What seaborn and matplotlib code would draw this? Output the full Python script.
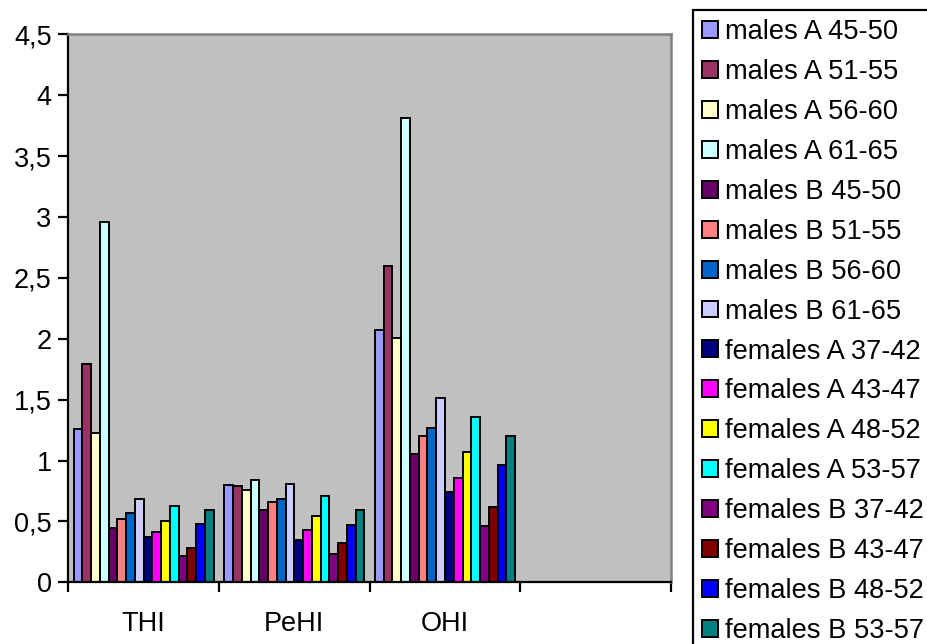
import matplotlib
matplotlib.use("Agg")
import matplotlib.pyplot as plt
import seaborn as sns
import pandas as pd
import numpy as np
from matplotlib.ticker import FuncFormatter, FixedLocator
from matplotlib.patches import Rectangle

categories = ["THI", "PeHI", "OHI"]
series = [
    "males A 45-50", "males A 51-55", "males A 56-60", "males A 61-65",
    "males B 45-50", "males B 51-55", "males B 56-60", "males B 61-65",
    "females A 37-42", "females A 43-47", "females A 48-52", "females A 53-57",
    "females B 37-42", "females B 43-47", "females B 48-52", "females B 53-57",
]
thi = [1.26, 1.79, 1.23, 2.96, 0.45, 0.52, 0.565, 0.685,
       0.37, 0.41, 0.50, 0.63, 0.22, 0.285, 0.48, 0.595]
pehi = [0.80, 0.79, 0.76, 0.84, 0.59, 0.66, 0.68, 0.81,
        0.35, 0.43, 0.545, 0.71, 0.23, 0.325, 0.47, 0.59]
ohi = [2.075, 2.60, 2.005, 3.815, 1.055, 1.20, 1.265, 1.51,
       0.745, 0.86, 1.07, 1.355, 0.465, 0.62, 0.965, 1.20]
colors = ["#9999FF", "#993366", "#FFFFCC", "#CCFFFF", "#660066", "#FF8080",
          "#0066CC", "#CCCCFF", "#000080", "#FF00FF", "#FFFF00", "#00FFFF",
          "#800080", "#800000", "#0000FF", "#008080"]
ytick_vals = [0, 0.5, 1, 1.5, 2, 2.5, 3, 3.5, 4, 4.5]

rows = []
for cat, vals in zip(categories, [thi, pehi, ohi]):
    for s, v in zip(series, vals):
        rows.append({"index": cat, "series": s, "value": v})
df = pd.DataFrame(rows)

sns.set_style("white")
plt.rcParams["font.family"] = ["Liberation Sans", "DejaVu Sans"]
plt.rcParams["text.color"] = "black"
plt.rcParams["xtick.color"] = "black"
plt.rcParams["ytick.color"] = "black"

W, H = 927, 644
fig = plt.figure(figsize=(W / 100, H / 100), dpi=100)
L, R, T, B = 68.3, 671, 34.3, 582.3
ax = fig.add_axes([L / W, 1 - B / H, (R - L) / W, (B - T) / H])

sns.barplot(data=df, x="index", y="value", hue="series", order=categories,
            hue_order=series, palette=colors, width=0.93, ax=ax,
            edgecolor="black", linewidth=1.4, saturation=1, errorbar=None)

ax.set_facecolor("#C0C0C0")
ax.set_xlim(-0.5, 3.5)
ax.set_ylim(0, 4.5)
ax.set_xlabel("")
ax.set_ylabel("")

ax.yaxis.set_major_locator(FixedLocator(ytick_vals))
ax.yaxis.set_major_formatter(FuncFormatter(lambda v, p: ("%g" % v).replace(".", ",")))
ax.set_xticks(range(len(categories)))
ax.set_xticklabels(categories)
ax.xaxis.set_minor_locator(FixedLocator([-0.5, 0.5, 1.5, 2.5, 3.5]))
ax.tick_params(axis="x", which="major", length=0, labelsize=19.5, pad=21,
               labelcolor="black", bottom=True)
ax.tick_params(axis="x", which="minor", length=7, width=1.6, color="black",
               direction="out", bottom=True)
ax.tick_params(axis="y", which="major", length=7, width=1.6, color="black",
               direction="out", labelsize=19.5, pad=5, left=True, labelcolor="black")
ax.grid(False)

for side in ["left", "bottom"]:
    ax.spines[side].set_color("black")
    ax.spines[side].set_linewidth(1.6)
for side in ["top", "right"]:
    ax.spines[side].set_visible(True)
    ax.spines[side].set_color("#808080")
    ax.spines[side].set_linewidth(1.8)

handles, labels = ax.get_legend_handles_labels()
if ax.legend_:
    ax.legend_.remove()

# legend box (extends beyond the figure edge, as in the reference)
box = Rectangle((693 / W, -0.05), 0.5, 1 - 9.7 / H + 0.05,
                transform=fig.transFigure, facecolor="white",
                edgecolor="black", linewidth=1.6, zorder=1)
fig.patches.append(box)

leg = fig.legend(handles, labels, loc="upper left",
                 bbox_to_anchor=(697 / W, 1 - 14 / H),
                 bbox_transform=fig.transFigure,
                 fontsize=19.6, frameon=False,
                 handlelength=0.58, handleheight=0.58, handletextpad=0.25,
                 labelspacing=0.51, borderpad=0.2, borderaxespad=0,
                 ncol=1, labelcolor="black")
leg.set_zorder(5)
for h in leg.legend_handles:
    h.set_edgecolor("black")
    h.set_linewidth(1.4)

fig.savefig("out.png", dpi=100)
